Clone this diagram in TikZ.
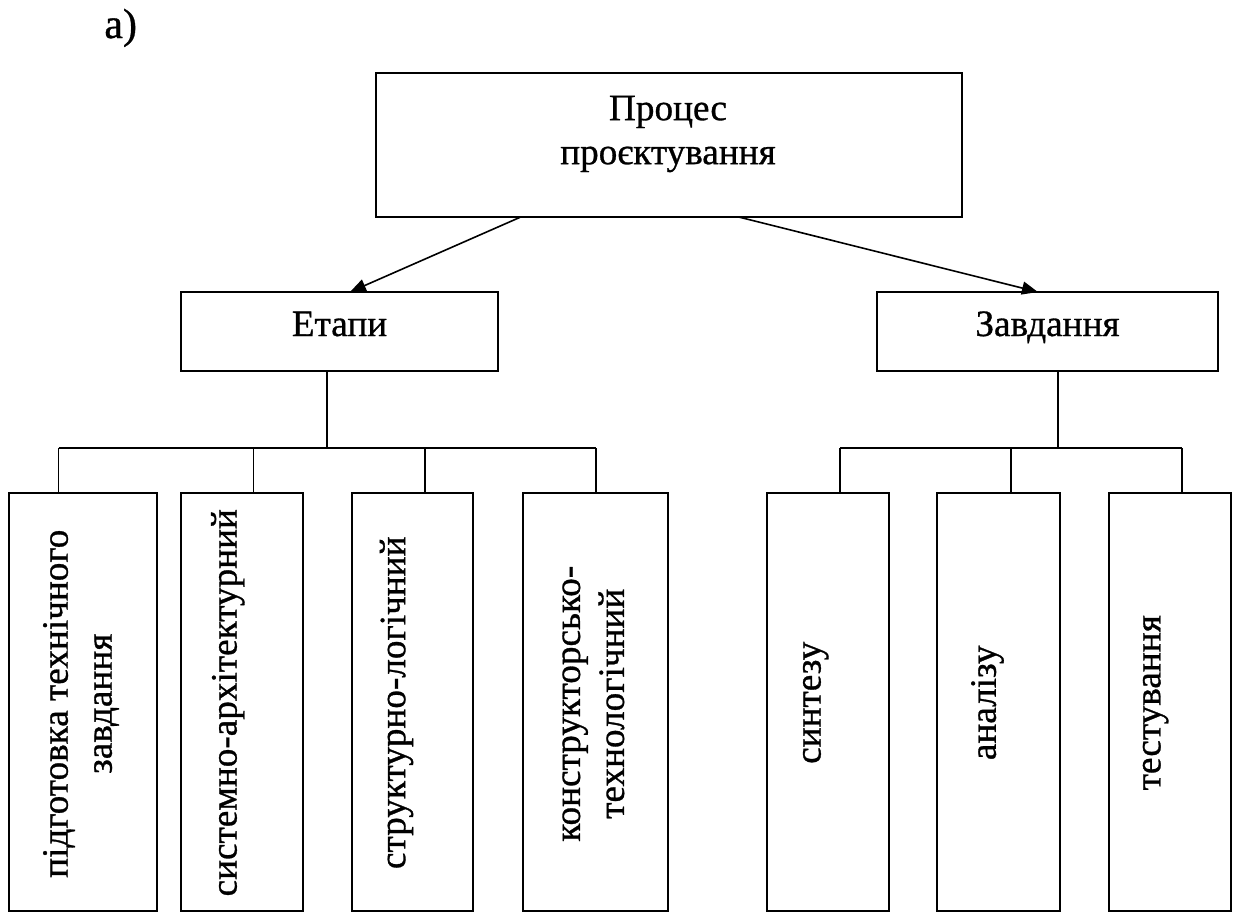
\documentclass[tikz,border=0pt]{standalone}
\usepackage{fontspec}
\setmainfont{Liberation Serif}[FakeBold=0.8]
\newfontfamily\reffont{Liberation Serif}[FakeBold=0.8]
\usetikzlibrary{arrows.meta,calc,fit}
\begin{document}
\begin{tikzpicture}[x=0.5pt,y=-0.5pt,
  box/.style={draw, line width=1pt, inner sep=0pt, outer sep=0pt},
  conn/.style={line width=0.8pt},
  arr/.style={line width=0.8pt, -{Triangle[length=8pt,width=6.5pt]}},
  lbl/.style={font=\reffont\fontsize{18.6pt}{22pt}\selectfont, align=center, inner sep=0pt},
  vlbl/.style={lbl, rotate=90},
  hbox/.style={box, font=\reffont\fontsize{18.6pt}{22pt}\selectfont, text height=0.7em, text depth=0.25em},
]
\useasboundingbox (0,0) rectangle (1233,912);

% label
\node[font=\reffont\fontsize{21pt}{24pt}\selectfont, anchor=base west, inner sep=0pt] (lab) at (104,38) {а)};

% top box
\node[box, fit={(376,73) (962,217)}] (top) {};
\node[lbl] (toptxt) at (668,134) {Процес\\проєктування};

% second level
\node[hbox, minimum width=158.5pt, minimum height=39.5pt] (et) at (339.5,331.5) {Етапи};
\node[hbox, minimum width=170.5pt, minimum height=39.5pt] (zv) at (1047.5,331.5) {Завдання};

\draw[arr] ($(top.south west)!0.247!(top.south east)$) -- ($(et.north west)!0.533!(et.north east)$);
\draw[arr] ($(top.south west)!0.619!(top.south east)$) -- ($(zv.north west)!0.472!(zv.north east)$);

% leaf boxes
\node[box, fit={(9.3,492.5) (156.7,911)}] (b1) {};
\node[box, fit={(180.7,492.5) (303,911)}] (b2) {};
\node[box, fit={(352,492.5) (473,911)}] (b3) {};
\node[box, fit={(522.7,492.5) (668,911)}] (b4) {};
\node[box, fit={(766.6,492.5) (889,911)}] (b5) {};
\node[box, fit={(937,492.5) (1060,911)}] (b6) {};
\node[box, fit={(1108.7,492.5) (1230.6,911)}] (b7) {};

\node[vlbl] (t1) at ($(b1.center)+(-2,2)$) {підготовка технічного\\завдання};
\node[vlbl] (t2) at ($(b2.center)+(-14,1)$) {системно-архітектурний};
\node[vlbl] (t3) at ($(b3.center)+(-16,1)$) {структурно-логічний};
\node[vlbl] (t4) at ($(b4.center)+(-2,2)$) {конструкторсько-\\технологічний};
\node[vlbl] (t5) at ($(b5.center)+(-12,1)$) {синтезу};
\node[vlbl] (t6) at ($(b6.center)+(-11,1)$) {аналізу};
\node[vlbl] (t7) at ($(b7.center)+(-14,1)$) {тестування};

% tree connectors, left
\coordinate (ej) at (327,448);
\coordinate (d1) at (58.5,448);
\coordinate (d2) at (253.5,448);
\coordinate (d3) at (425,448);
\coordinate (d4) at (596,448);
\draw[conn] (ej |- et.south) -- (ej);
\draw[conn] (d1) -- (d4);
\foreach \i in {1,...,4} \draw[conn] (d\i) -- (d\i |- b\i.north);

% tree connectors, right
\coordinate (zj) at (1058,448);
\coordinate (d5) at (840,448);
\coordinate (d6) at (1011,448);
\coordinate (d7) at (1182,448);
\draw[conn] (zj |- zv.south) -- (zj);
\draw[conn] (d5) -- (d7);
\foreach \i in {5,6,7} \draw[conn] (d\i) -- (d\i |- b\i.north);
\end{tikzpicture}
\end{document}
